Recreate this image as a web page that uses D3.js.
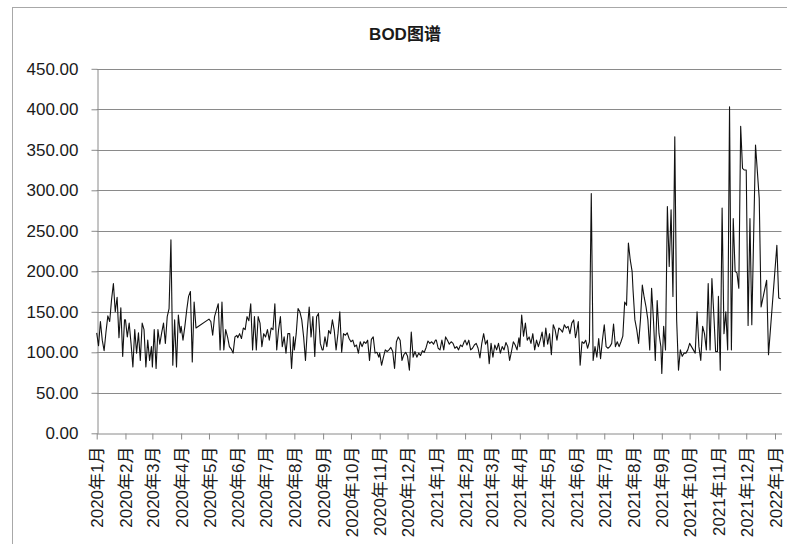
<!DOCTYPE html>
<html>
<head>
<meta charset="utf-8">
<script src="https://cdn.jsdelivr.net/npm/d3@7"></script>
<style>
body { margin:0; background:#fff; }
svg text { font-family: "Liberation Sans", "Noto Sans CJK SC", sans-serif; fill:#1a1a1a; }
</style>
</head>
<body>
<svg id="chart" width="787" height="544"></svg>
<script>
// BOD readings, one value every 2 days (day 1, 3, 5, ...) of each month; null = no sample
var bod2020_01 = [124,108,138,115,102,125,145,138,165,185,150,168,118,155,95,140];
var bod2020_02 = [140,119,136,111,82,128,99,124,90,136,128,82,115,90,107];
var bod2020_03 = [82,128,80,128,110,124,136,111,144,154,239,84,140,82,146,124];
var bod2020_04 = [132,115,132,152,169,175,88,162,130,null,null,null,null,null,null];
var bod2020_05 = [141,138,121,144,152,160,103,162,103,128,119,107,104,99,119,121];
var bod2020_06 = [118,123,117,130,128,144,139,160,103,144,103,144,136,107,123];
var bod2020_07 = [119,128,115,130,128,160,103,128,144,107,119,99,123,123,80,119];
var bod2020_08 = [103,123,154,150,140,119,90,128,156,119,144,95,144,148,111,103];
var bod2020_09 = [103,119,107,127,123,140,127,103,123,150,100,123,121,124,117];
var bod2020_10 = [113,115,107,109,99,113,107,113,111,115,90,116,119,99,100,94];
var bod2020_11 = [99,84,94,103,101,103,106,101,80,113,119,115,90,97,100];
var bod2020_12 = [95,78,125,94,101,94,99,96,102,100,106,114,111,113,110,115];
var bod2021_01 = [115,105,103,115,103,119,115,110,113,111,105,107,103,109,107,113];
var bod2021_02 = [115,109,115,103,105,109,111,105,93,111,123,110,115,86];
var bod2021_03 = [111,94,109,103,111,99,107,103,112,107,90,101,113,109,103,118];
var bod2021_04 = [107,146,120,136,115,119,111,123,103,115,107,115,125,107,130];
var bod2021_05 = [110,123,97,134,128,115,130,128,125,134,130,132,123,136,140,118];
var bod2021_06 = [123,138,84,113,111,115,105,113,296,90,107,94,117,92,115];
var bod2021_07 = [134,107,105,107,111,135,107,113,107,113,120,162,158,235,214,200];
var bod2021_08 = [177,140,128,111,140,183,168,156,140,103,179,140,90,164,123,107];
var bod2021_09 = [74,132,103,280,206,276,169,366,140,78,103,95,99,99,103];
var bod2021_10 = [111,107,103,99,150,107,90,132,123,103,185,103,191,148,101,101];
var bod2021_11 = [169,78,278,123,150,103,403,103,265,200,198,179,379,327,325];
var bod2021_12 = [325,133,265,134,null,356,null,290,156,null,null,189,97,null,null,null];
var bod2022_01 = [null,232,167,166];

var monthKeys = ["2020-01","2020-02","2020-03","2020-04","2020-05","2020-06","2020-07","2020-08","2020-09","2020-10","2020-11","2020-12",
	"2021-01","2021-02","2021-03","2021-04","2021-05","2021-06","2021-07","2021-08","2021-09","2021-10","2021-11","2021-12","2022-01"];
var monthValues = [bod2020_01,bod2020_02,bod2020_03,bod2020_04,bod2020_05,bod2020_06,bod2020_07,bod2020_08,bod2020_09,bod2020_10,bod2020_11,bod2020_12,
	bod2021_01,bod2021_02,bod2021_03,bod2021_04,bod2021_05,bod2021_06,bod2021_07,bod2021_08,bod2021_09,bod2021_10,bod2021_11,bod2021_12,bod2022_01];

var yTicks = [0,50,100,150,200,250,300,350,400,450];
var chartTitle = "BOD图谱";

var points = [];
monthKeys.forEach(function(key, m) {
	var parts = key.split("-");
	monthValues[m].forEach(function(v, i) {
		if (v === null) return;
		points.push({date: new Date(+parts[0], +parts[1]-1, 1+2*i), v: v});
	});
});

var svg = d3.select("#chart");
var plotLeft = 96.7, plotRight = 781.5, plotTop = 68.8, plotBottom = 433.3;

var x = d3.scaleTime()
	.domain([new Date(2020,0,1), new Date(2022,0,8)])
	.range([plotLeft, plotRight]);
var y = d3.scaleLinear()
	.domain([0,450])
	.range([plotBottom, plotTop]);

// outer chart border
svg.append("rect")
	.attr("x", 12.5).attr("y", 7.5)
	.attr("width", 800).attr("height", 600)
	.attr("fill", "#fff")
	.attr("stroke", "#a8a8a8")
;

svg.append("text")
	.attr("x", 405).attr("y", 40)
	.style("text-anchor", "middle")
	.style("font-weight", "bold")
	.style("font-size", "17px")
	.text(chartTitle)
;

// gridlines
svg.append("g")
	.attr("class", "grid")
	.selectAll("line")
	.data(yTicks.filter(function(d) {return d > 0;}))
	.enter().append("line")
		.attr("x1", plotLeft).attr("x2", plotRight)
		.attr("y1", function(d) {return Math.round(y(d))+0.5;})
		.attr("y2", function(d) {return Math.round(y(d))+0.5;})
		.attr("stroke", "#8a8a8a")
;

var yAxis = svg.append("g")
	.attr("transform", "translate(" + (Math.round(plotLeft)+0.5) + ",0)")
	.call(d3.axisLeft(y).tickValues(yTicks).tickFormat(d3.format(".2f")).tickSize(6).tickSizeOuter(0).tickPadding(13))
;
yAxis.selectAll("text").style("font-size", "17px").attr("fill", "#1a1a1a");

var xAxis = svg.append("g")
	.attr("transform", "translate(0," + (Math.round(plotBottom)+0.5) + ")")
	.call(d3.axisBottom(x).ticks(d3.timeMonth.every(1)).tickFormat(d3.timeFormat("%Y年%-m月")).tickSize(6).tickSizeOuter(0))
;
xAxis.selectAll("text")
	.style("font-size", "17px")
	.attr("fill", "#1a1a1a")
	.style("text-anchor", "end")
	.attr("transform", "rotate(-90)")
	.attr("x", -13)
	.attr("y", 0)
	.attr("dy", "0.36em")
;
svg.selectAll(".domain, .tick line").attr("stroke", "#8a8a8a");

var line = d3.line()
	.x(function(d) {return x(d.date);})
	.y(function(d) {return y(d.v);});

svg.append("path")
	.datum(points)
	.attr("d", line)
	.attr("fill", "none")
	.attr("stroke", "#111")
	.attr("stroke-width", 1.1)
	.attr("stroke-linejoin", "round")
;
</script>
</body>
</html>
